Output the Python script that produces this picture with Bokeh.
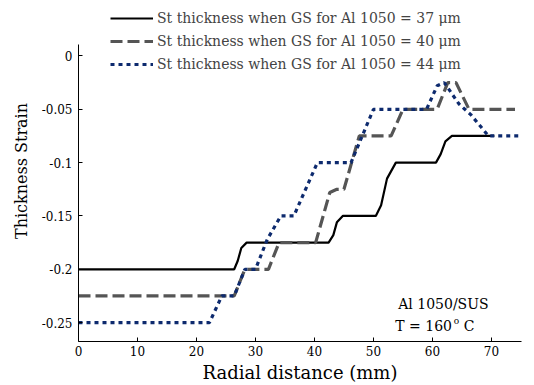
from bokeh.plotting import figure
from bokeh.models import Legend, LegendItem, FixedTicker
from bokeh.core.properties import value
from bokeh.embed import file_html
from bokeh.resources import INLINE

# ---- data ----
x_37 = [0, 26.4, 27.0, 27.6, 28.5, 42.4, 43.2, 43.8, 44.8, 50.4, 51.3, 52.3, 53.8, 60.6, 61.4, 62.2, 63.3, 70.5]
y_37 = [-0.2, -0.2, -0.192, -0.18, -0.175, -0.175, -0.168, -0.156, -0.15, -0.15, -0.14, -0.115, -0.1, -0.1, -0.092, -0.08, -0.075, -0.075]

x_40 = [0, 26.4, 28.2, 32.2, 34.0, 40.2, 42.6, 43.8, 45.0, 47.6, 53.0, 55.0, 60.8, 62.6, 64.0, 66.2, 74.0]
y_40 = [-0.225, -0.225, -0.2, -0.2, -0.175, -0.175, -0.128, -0.125, -0.125, -0.075, -0.075, -0.05, -0.05, -0.025, -0.025, -0.05, -0.05]

x_44 = [0, 22.2, 24.3, 26.4, 28.2, 30.0, 32.0, 34.3, 36.5, 40.5, 46.2, 50.0, 59.0, 60.8, 62.0, 64.5, 66.5, 69.5, 75.0]
y_44 = [-0.25, -0.25, -0.225, -0.225, -0.2, -0.2, -0.172, -0.15, -0.15, -0.1, -0.1, -0.05, -0.05, -0.028, -0.025, -0.045, -0.055, -0.075, -0.075]

series_labels = [
    "St thickness when GS for Al 1050 = 37 \u03bcm",
    "St thickness when GS for Al 1050 = 40 \u03bcm",
    "St thickness when GS for Al 1050 = 44 \u03bcm",
]
x_ticks = [0, 10, 20, 30, 40, 50, 60, 70]
y_ticks = [-0.25, -0.2, -0.15, -0.1, -0.05, 0]
y_tick_labels = ["-0.25", "-0.2", "-0.15", "-0.1", "-0.05", "0"]
note_lines = ["Al 1050/SUS", "T = 160", "o", "C"]

FONT = "DejaVu Serif"

p = figure(width=534, height=385, output_backend="svg", toolbar_location=None,
           x_range=(0, 75.1), y_range=(-0.2677, 0.052),
           min_border_left=78, min_border_right=13, min_border_top=0, min_border_bottom=41)
p.outline_line_color = None
p.grid.visible = False
p.background_fill_color = "white"
p.border_fill_color = "white"

r37 = p.line(x_37, y_37, line_color="black", line_width=2.2)
r40 = p.line(x_40, y_40, line_color="#555555", line_width=3.2, line_dash="12 5")
r44 = p.line(x_44, y_44, line_color="#0d2a6e", line_width=3.2, line_dash="4 4")

xa = p.xaxis[0]
xa.ticker = FixedTicker(ticks=x_ticks)
xa.bounds = (0, 75.1)
xa.axis_label = "Radial distance (mm)"

ya = p.yaxis[0]
ya.ticker = FixedTicker(ticks=y_ticks)
ya.major_label_overrides = {t: s for t, s in zip(y_ticks, y_tick_labels)}
ya.bounds = (-0.2677, 0.011)
ya.axis_label = "Thickness Strain"

for ax in (xa, ya):
    ax.axis_line_color = "black"
    ax.axis_line_width = 1
    ax.major_tick_in = 4
    ax.major_tick_out = 0
    ax.minor_tick_line_color = None
    ax.major_label_text_font = FONT
    ax.major_label_text_font_size = "12px"
    ax.major_label_text_color = "black"
    ax.axis_label_text_font = FONT
    ax.axis_label_text_font_style = "normal"
    ax.axis_label_text_color = "black"
xa.axis_label_text_font_size = "18px"
ya.axis_label_text_font_size = "16px"
xa.major_label_standoff = 4
xa.axis_label_standoff = 3
ya.major_label_standoff = 6
ya.axis_label_standoff = 8

# annotations
p.text(x=[54.2], y=[-0.2325], text=[note_lines[0]], text_font=value(FONT), text_font_size="14px",
       text_baseline="middle", text_color="black")
p.text(x=[53.7], y=[-0.2528], text=[note_lines[1]], text_font=value(FONT), text_font_size="14px",
       text_baseline="middle", text_color="black")
p.text(x=[63.6], y=[-0.2485], text=[note_lines[2]], text_font=value(FONT), text_font_size="9px",
       text_baseline="middle", text_color="black")
p.text(x=[65.3], y=[-0.2528], text=[note_lines[3]], text_font=value(FONT), text_font_size="14px",
       text_baseline="middle", text_color="black")

legend = Legend(items=[LegendItem(label=series_labels[0], renderers=[r37]),
                       LegendItem(label=series_labels[1], renderers=[r40]),
                       LegendItem(label=series_labels[2], renderers=[r44])],
                location=(32, 267), padding=0, spacing=3, margin=0,
                glyph_height=20, glyph_width=43, label_standoff=4, label_height=20,
                label_text_font=FONT, label_text_font_size="14px",
                border_line_alpha=0, background_fill_alpha=0)
p.add_layout(legend)

open("out.html", "w").write(file_html(p, INLINE))
